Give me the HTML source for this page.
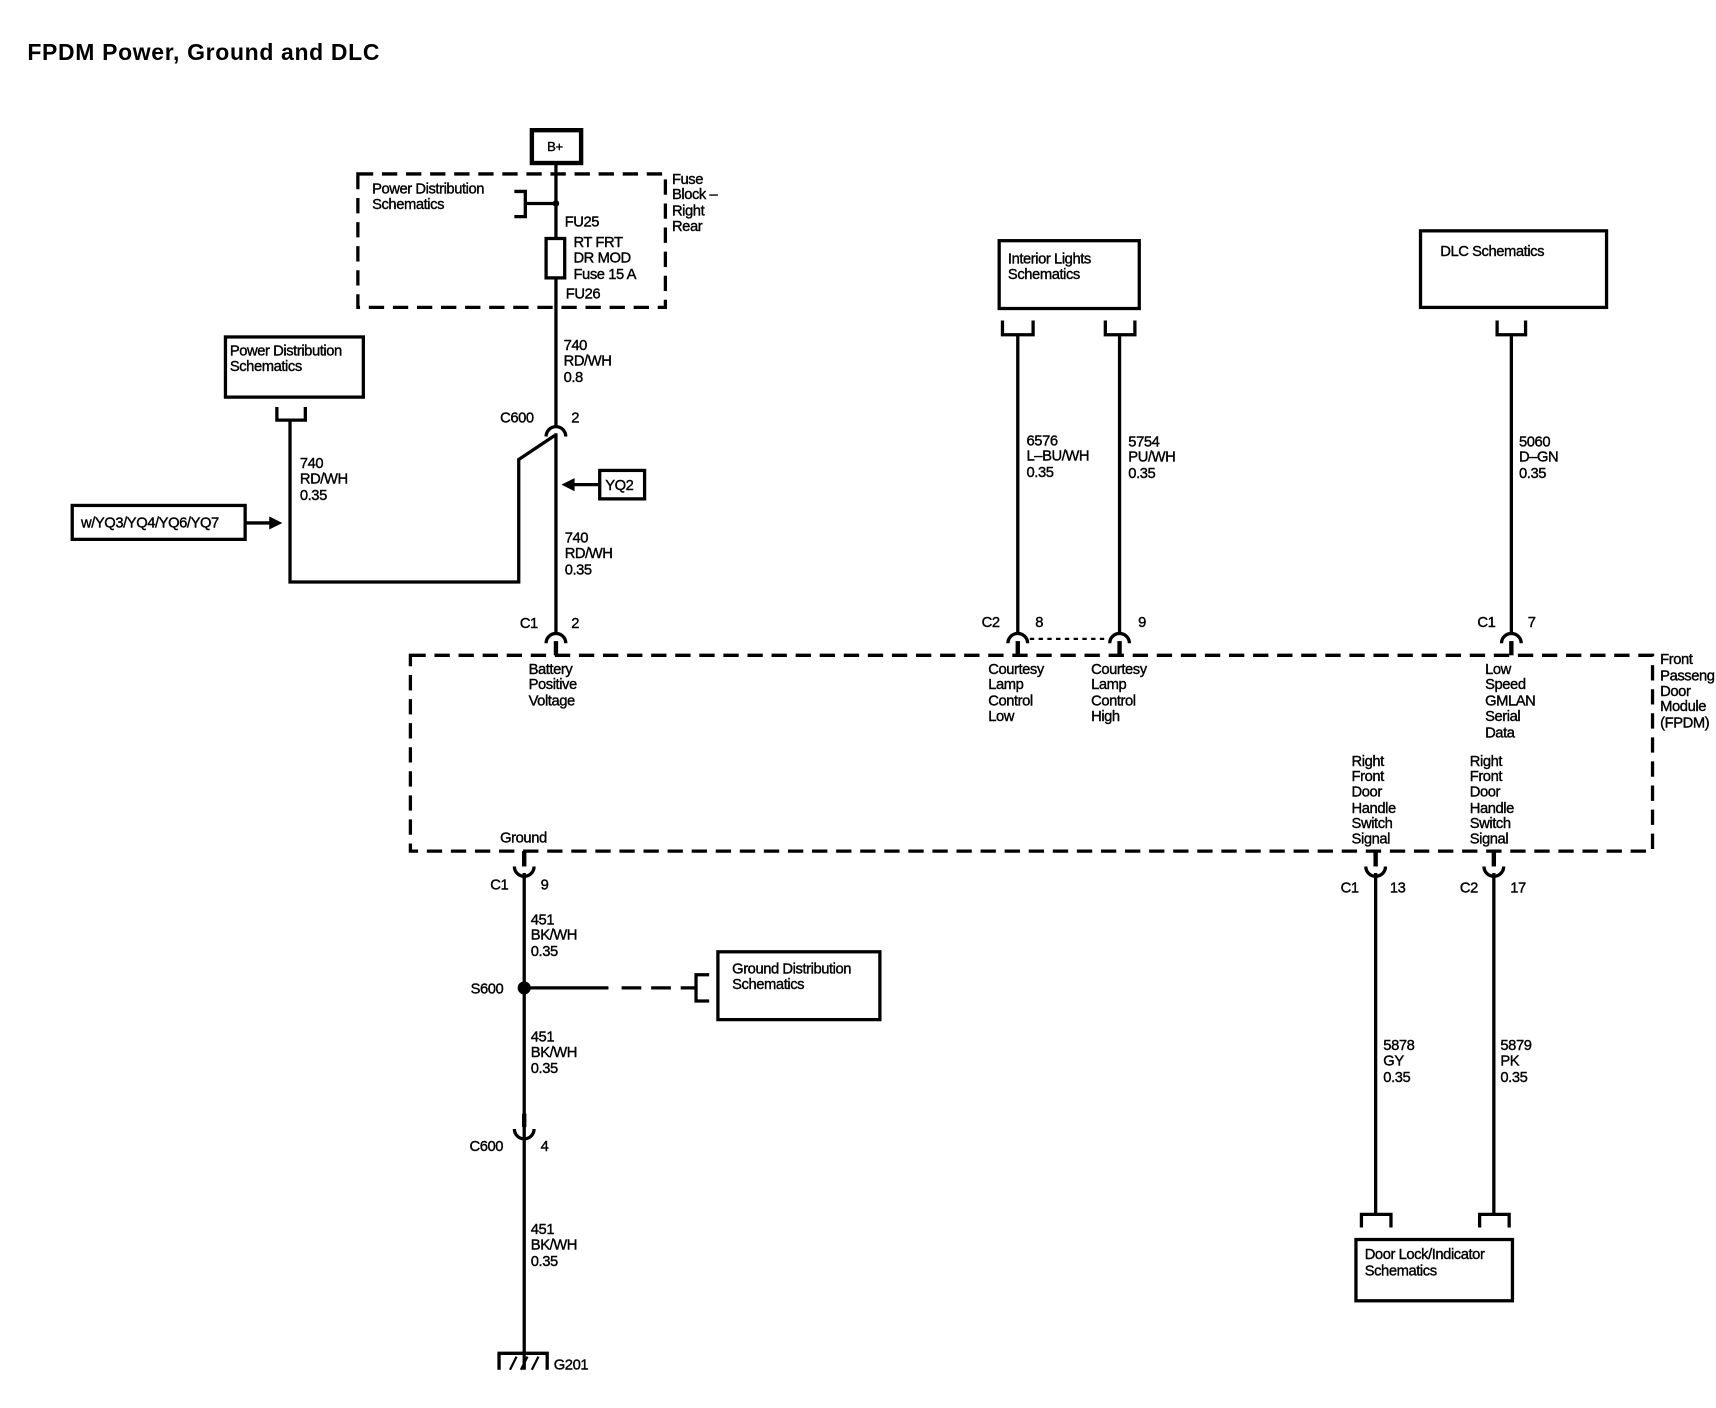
<!DOCTYPE html>
<html><head><meta charset="utf-8"><style>
html,body{margin:0;padding:0;background:#fff;width:1716px;height:1408px;overflow:hidden}
svg{display:block}
text{font-family:"Liberation Sans",Arial,sans-serif;font-size:13.5px;fill:#000;stroke:#000;stroke-width:0.35px;letter-spacing:-0.4px}
</style></head><body>
<svg width="1716" height="1408" viewBox="0 0 1568 1287" preserveAspectRatio="none" xmlns="http://www.w3.org/2000/svg">
<g fill="none" stroke="#000" stroke-width="3">
<rect x="486" y="119" width="45" height="30" stroke-width="4"/>
<line x1="508" y1="150" x2="508" y2="390"/>
<rect x="327" y="159" width="281" height="122" stroke-dasharray="14 8"/>
<polyline points="470,175 480,175 480,198 470,198"/>
<line x1="480" y1="186" x2="508" y2="186"/>
<rect x="499" y="218" width="17" height="36" fill="#fff"/>
<path d="M499,399 A9,9 0 0 1 517,399"/>
<line x1="508" y1="396" x2="508" y2="578"/>
<polyline points="507,398 474,420 474,532 265,532 265,384"/>
<rect x="206" y="308" width="126" height="55"/>
<polyline points="253,372 253,384 279,384 279,372"/>
<rect x="66" y="462" width="158" height="31"/>
<line x1="224" y1="478" x2="248" y2="478"/>
<rect x="548" y="430" width="41" height="26"/>
<line x1="548" y1="443" x2="522" y2="443"/>
<path d="M499,588 A9,9 0 0 1 517,588"/>
<line x1="508" y1="586" x2="508" y2="599" stroke-width="4"/>
<rect x="375" y="599" width="1135" height="179" stroke-dasharray="14 8"/>
<rect x="913" y="220" width="128" height="62"/>
<polyline points="916,293 916,306 944,306 944,293"/>
<polyline points="1010,293 1010,306 1037,306 1037,293"/>
<line x1="930" y1="306" x2="930" y2="578"/>
<line x1="1023" y1="306" x2="1023" y2="578"/>
<path d="M921,588 A9,9 0 0 1 939,588"/>
<path d="M1014,588 A9,9 0 0 1 1032,588"/>
<line x1="930" y1="586" x2="930" y2="599" stroke-width="4"/>
<line x1="1023" y1="586" x2="1023" y2="599" stroke-width="4"/>
<line x1="941" y1="584" x2="1012" y2="584" stroke-width="2" stroke-dasharray="4 4"/>
<rect x="1298" y="211" width="170" height="70"/>
<polyline points="1368,293 1368,306 1394,306 1394,293"/>
<line x1="1381" y1="306" x2="1381" y2="578"/>
<path d="M1372,588 A9,9 0 0 1 1390,588"/>
<line x1="1381" y1="586" x2="1381" y2="599" stroke-width="4"/>
<line x1="479" y1="778" x2="479" y2="792" stroke-width="4"/>
<path d="M470,792 A9,9 0 0 0 488,792"/>
<line x1="479" y1="798" x2="479" y2="1252"/>
<line x1="479" y1="903" x2="556" y2="903"/>
<line x1="568" y1="903" x2="636" y2="903" stroke-dasharray="18 9"/>
<polyline points="648,891 636,891 636,915 648,915"/>
<rect x="656" y="870" width="148" height="62"/>
<line x1="479" y1="1018" x2="479" y2="1030" stroke-width="4"/>
<path d="M470,1032 A9,9 0 0 0 488,1032" />
<polyline points="456,1252 456,1237 500,1237 500,1252"/>
<line x1="466" y1="1252" x2="472" y2="1240" stroke-width="2"/>
<line x1="476" y1="1252" x2="482" y2="1240" stroke-width="2"/>
<line x1="486" y1="1252" x2="492" y2="1240" stroke-width="2"/>
<line x1="1257" y1="778" x2="1257" y2="792" stroke-width="4"/>
<path d="M1248,792 A9,9 0 0 0 1266,792"/>
<line x1="1257" y1="798" x2="1257" y2="1110"/>
<line x1="1365" y1="778" x2="1365" y2="792" stroke-width="4"/>
<path d="M1356,792 A9,9 0 0 0 1374,792"/>
<line x1="1365" y1="798" x2="1365" y2="1110"/>
<polyline points="1244,1122 1244,1110 1271,1110 1271,1122"/>
<polyline points="1352,1122 1352,1110 1379,1110 1379,1122"/>
<rect x="1239" y="1133" width="143" height="56"/>
</g>
<g fill="#000">
<circle cx="508" cy="186" r="3"/>
<circle cx="479" cy="903" r="6"/>
<polygon points="258,478 246,472 246,484"/>
<polygon points="513,443 525,437 525,449"/>
</g>
<text x="25" y="55" style="font-size:21px;font-weight:bold;letter-spacing:0.6px;stroke-width:0">FPDM Power, Ground and DLC</text>
<text x="500" y="138" style="font-size:12px">B+</text>
<text x="614" y="168">Fuse</text><text x="614" y="182">Block –</text><text x="614" y="197">Right</text><text x="614" y="211">Rear</text>
<text x="340" y="177">Power Distribution</text><text x="340" y="191">Schematics</text>
<text x="516" y="207">FU25</text>
<text x="524" y="226">RT FRT</text><text x="524" y="240">DR MOD</text><text x="524" y="255">Fuse 15 A</text>
<text x="517" y="273">FU26</text>
<text x="515" y="320">740</text><text x="515" y="334">RD/WH</text><text x="515" y="349">0.8</text>
<text x="457" y="386">C600</text><text x="522" y="386">2</text>
<text x="210" y="325">Power Distribution</text><text x="210" y="339">Schematics</text>
<text x="274" y="428">740</text><text x="274" y="442">RD/WH</text><text x="274" y="457">0.35</text>
<text x="74" y="482">w/YQ3/YQ4/YQ6/YQ7</text>
<text x="553" y="448">YQ2</text>
<text x="516" y="496">740</text><text x="516" y="510">RD/WH</text><text x="516" y="525">0.35</text>
<text x="475" y="574">C1</text><text x="522" y="574">2</text>
<text x="483" y="616">Battery</text><text x="483" y="630">Positive</text><text x="483" y="645">Voltage</text>
<text x="921" y="241">Interior Lights</text><text x="921" y="255">Schematics</text>
<text x="938" y="407">6576</text><text x="938" y="421">L–BU/WH</text><text x="938" y="436">0.35</text>
<text x="1031" y="408">5754</text><text x="1031" y="422">PU/WH</text><text x="1031" y="437">0.35</text>
<text x="897" y="573">C2</text><text x="946" y="573">8</text><text x="1040" y="573">9</text>
<text x="903" y="616">Courtesy</text><text x="903" y="630">Lamp</text><text x="903" y="645">Control</text><text x="903" y="659">Low</text>
<text x="997" y="616">Courtesy</text><text x="997" y="630">Lamp</text><text x="997" y="645">Control</text><text x="997" y="659">High</text>
<text x="1316" y="234">DLC Schematics</text>
<text x="1388" y="408">5060</text><text x="1388" y="422">D–GN</text><text x="1388" y="437">0.35</text>
<text x="1350" y="573">C1</text><text x="1396" y="573">7</text>
<text x="1357" y="616">Low</text><text x="1357" y="630">Speed</text><text x="1357" y="645">GMLAN</text><text x="1357" y="659">Serial</text><text x="1357" y="674">Data</text>
<text x="1517" y="607">Front</text><text x="1517" y="622">Passeng</text><text x="1517" y="636">Door</text><text x="1517" y="650">Module</text><text x="1517" y="665">(FPDM)</text>
<text x="1235" y="700">Right</text><text x="1235" y="714">Front</text><text x="1235" y="728">Door</text><text x="1235" y="743">Handle</text><text x="1235" y="757">Switch</text><text x="1235" y="771">Signal</text>
<text x="1343" y="700">Right</text><text x="1343" y="714">Front</text><text x="1343" y="728">Door</text><text x="1343" y="743">Handle</text><text x="1343" y="757">Switch</text><text x="1343" y="771">Signal</text>
<text x="457" y="770">Ground</text>
<text x="448" y="813">C1</text><text x="494" y="813">9</text>
<text x="485" y="845">451</text><text x="485" y="859">BK/WH</text><text x="485" y="874">0.35</text>
<text x="430" y="908">S600</text>
<text x="669" y="890">Ground Distribution</text><text x="669" y="904">Schematics</text>
<text x="485" y="952">451</text><text x="485" y="966">BK/WH</text><text x="485" y="981">0.35</text>
<text x="429" y="1052">C600</text><text x="494" y="1052">4</text>
<text x="485" y="1128">451</text><text x="485" y="1142">BK/WH</text><text x="485" y="1157">0.35</text>
<text x="506" y="1252">G201</text>
<text x="1225" y="816">C1</text><text x="1270" y="816">13</text>
<text x="1334" y="816">C2</text><text x="1380" y="816">17</text>
<text x="1264" y="960">5878</text><text x="1264" y="974">GY</text><text x="1264" y="989">0.35</text>
<text x="1371" y="960">5879</text><text x="1371" y="974">PK</text><text x="1371" y="989">0.35</text>
<text x="1247" y="1151">Door Lock/Indicator</text><text x="1247" y="1166">Schematics</text>
</svg>
</body></html>
